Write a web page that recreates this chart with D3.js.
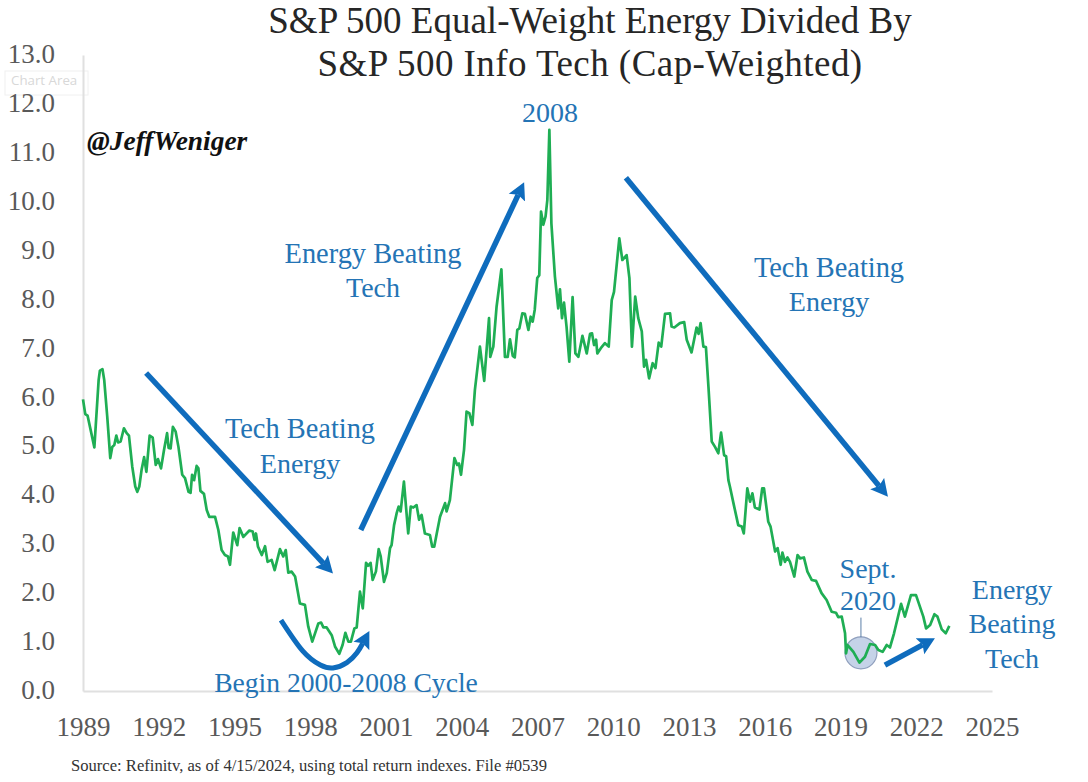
<!DOCTYPE html>
<html>
<head>
<meta charset="utf-8">
<script src="https://cdn.jsdelivr.net/npm/d3@7"></script>
<style>
  body { margin: 0; background: #fff; }
  text { font-family: "Liberation Serif", serif; }
  .note { fill: #2474b5; font-size: 28px; text-anchor: middle; }
  .tick text { fill: #595959; font-size: 27px; }
  .domain { stroke: #e0e0e0; stroke-width: 2px; }
</style>
</head>
<body>
<svg id="chart" width="1088" height="782"></svg>
<script>
const yearTicks = d3.range(1989, 2026, 3);
const valueTicks = d3.range(0, 14);

// one pair per kink in the line
const years = [
  1989.00, 1989.09, 1989.18, 1989.45, 1989.62, 1989.67, 1989.77, 1989.84, 1989.96, 1990.08,
  1990.16, 1990.24, 1990.32, 1990.39, 1990.49, 1990.62, 1990.73, 1990.82, 1990.95, 1991.07,
  1991.15, 1991.23, 1991.32, 1991.42, 1991.51, 1991.64, 1991.76, 1991.88, 1991.97, 1992.09,
  1992.21, 1992.33, 1992.39, 1992.47, 1992.56, 1992.67, 1992.78, 1992.93, 1993.04, 1993.18,
  1993.26, 1993.32, 1993.40, 1993.50, 1993.57, 1993.65, 1993.79, 1993.90, 1994.00, 1994.23,
  1994.36, 1994.49, 1994.62, 1994.74, 1994.82, 1994.95, 1995.11, 1995.20, 1995.35, 1995.59,
  1995.72, 1995.79, 1995.85, 1995.93, 1996.08, 1996.21, 1996.31, 1996.47, 1996.59, 1996.80,
  1996.93, 1997.03, 1997.13, 1997.26, 1997.40, 1997.59, 1997.79, 1997.92, 1998.08, 1998.32,
  1998.43, 1998.52, 1998.65, 1998.85, 1998.98, 1999.15, 1999.28, 1999.39, 1999.51, 1999.61,
  1999.75, 1999.84, 1999.97, 2000.08, 2000.21, 2000.29, 2000.39, 2000.47, 2000.60, 2000.71,
  2000.79, 2000.92, 2001.03, 2001.16, 2001.22, 2001.32, 2001.42, 2001.50, 2001.58, 2001.71,
  2001.88, 2001.98, 2002.08, 2002.21, 2002.31, 2002.41, 2002.54, 2002.74, 2002.83, 2002.91,
  2003.01, 2003.14, 2003.34, 2003.40, 2003.53, 2003.71, 2003.82, 2003.89, 2003.97, 2004.09,
  2004.19, 2004.30, 2004.42, 2004.52, 2004.72, 2004.89, 2005.08, 2005.13, 2005.25, 2005.38,
  2005.57, 2005.71, 2005.82, 2005.91, 2006.02, 2006.10, 2006.20, 2006.28, 2006.40, 2006.50,
  2006.64, 2006.73, 2006.81, 2006.89, 2006.99, 2007.07, 2007.14, 2007.23, 2007.32, 2007.39,
  2007.47, 2007.55, 2007.69, 2007.82, 2007.89, 2007.97, 2008.05, 2008.15, 2008.26, 2008.39,
  2008.50, 2008.62, 2008.78, 2008.95, 2009.08, 2009.16, 2009.24, 2009.32, 2009.37, 2009.54,
  2009.67, 2009.82, 2009.94, 2010.03, 2010.24, 2010.36, 2010.53, 2010.64, 2010.74, 2010.87,
  2010.99, 2011.13, 2011.22, 2011.30, 2011.42, 2011.56, 2011.67, 2011.80, 2011.90, 2012.05,
  2012.25, 2012.31, 2012.42, 2012.64, 2012.81, 2012.91, 2013.10, 2013.30, 2013.38, 2013.46,
  2013.57, 2013.67, 2013.77, 2013.90, 2014.03, 2014.16, 2014.27, 2014.39, 2014.47, 2014.56,
  2014.62, 2014.76, 2014.95, 2015.09, 2015.17, 2015.31, 2015.42, 2015.51, 2015.61, 2015.79,
  2015.90, 2015.97, 2016.14, 2016.23, 2016.41, 2016.51, 2016.63, 2016.70, 2016.80, 2016.90,
  2017.00, 2017.17, 2017.30, 2017.40, 2017.55, 2017.69, 2017.86, 2018.03, 2018.25, 2018.45,
  2018.65, 2018.82, 2018.91, 2019.05, 2019.18, 2019.22, 2019.28, 2019.51, 2019.75, 2019.97,
  2020.17, 2020.37, 2020.50, 2020.67, 2020.83, 2020.96, 2021.12, 2021.40, 2021.55, 2021.79,
  2021.99, 2022.28, 2022.39, 2022.55, 2022.72, 2022.84, 2023.01, 2023.17, 2023.31
];
const ratio = [
  5.96, 5.66, 5.63, 4.98, 6.36, 6.55, 6.58, 6.36, 5.61, 4.76,
  4.99, 5.03, 5.22, 5.08, 5.10, 5.37, 5.27, 5.22, 4.59, 4.18,
  4.07, 4.18, 4.52, 4.78, 4.48, 5.22, 5.18, 4.62, 4.74, 4.55,
  4.93, 5.27, 4.97, 4.96, 5.40, 5.30, 4.99, 4.42, 4.35, 4.07,
  4.05, 4.42, 4.31, 4.60, 4.55, 4.09, 4.03, 3.70, 3.56, 3.56,
  3.29, 2.88, 2.78, 2.75, 2.58, 3.24, 2.98, 3.33, 3.15, 3.28,
  3.26, 3.09, 3.22, 2.95, 2.78, 2.96, 2.64, 2.68, 2.47, 2.90,
  2.75, 2.88, 2.42, 2.44, 2.34, 1.79, 1.76, 1.32, 1.01, 1.38,
  1.40, 1.30, 1.30, 1.14, 0.91, 0.76, 0.94, 1.19, 1.01, 1.01,
  1.28, 1.30, 2.03, 1.69, 2.62, 2.56, 2.62, 2.27, 2.44, 2.90,
  2.75, 2.23, 2.41, 2.92, 2.98, 3.39, 3.63, 3.77, 3.67, 4.28,
  3.22, 3.77, 3.75, 3.80, 3.50, 3.60, 3.22, 3.19, 2.95, 2.95,
  3.22, 3.56, 3.84, 3.67, 3.90, 4.76, 4.62, 4.65, 4.42, 4.93,
  5.71, 5.68, 5.44, 6.15, 7.04, 6.34, 7.62, 6.83, 7.04, 7.86,
  8.62, 6.83, 6.83, 7.19, 6.85, 6.82, 7.38, 7.41, 7.72, 7.71,
  7.38, 7.65, 7.55, 7.79, 8.44, 8.50, 9.80, 9.53, 9.70, 10.04,
  11.47, 9.56, 8.47, 7.82, 8.21, 7.62, 7.94, 7.45, 6.73, 8.05,
  6.90, 6.83, 7.26, 6.90, 7.30, 7.31, 7.07, 7.18, 6.90, 7.03,
  7.11, 7.04, 7.99, 8.16, 9.25, 8.81, 8.91, 8.44, 7.04, 8.06,
  7.62, 7.35, 6.63, 6.77, 6.39, 6.70, 6.60, 7.12, 7.04, 7.71,
  7.72, 7.45, 7.43, 7.52, 7.54, 7.18, 6.92, 7.43, 7.30, 7.52,
  7.04, 7.03, 6.22, 5.10, 4.99, 4.86, 5.28, 4.82, 4.80, 4.31,
  4.18, 3.84, 3.39, 3.36, 3.22, 4.14, 3.87, 4.04, 3.75, 3.71,
  4.14, 4.14, 3.46, 3.36, 2.85, 2.92, 2.58, 2.83, 2.64, 2.73,
  2.64, 2.34, 2.78, 2.71, 2.73, 2.44, 2.27, 2.25, 2.00, 1.86,
  1.62, 1.60, 1.51, 1.52, 1.18, 0.77, 0.94, 0.80, 0.58, 0.70,
  0.96, 0.94, 0.84, 0.80, 0.94, 0.89, 1.18, 1.78, 1.52, 1.96,
  1.96, 1.52, 1.28, 1.35, 1.57, 1.52, 1.26, 1.18, 1.33
];

const svg = d3.select('#chart');
const x = d3.scaleLinear().domain([1989, 2025]).range([83, 992]);
const y = d3.scaleLinear().domain([0, 13]).range([691, 55]);

const blue = '#0f6cbd';
const green = '#1fae54';
const headLen = 14;

svg.append('defs').append('marker')
  .attr('id', 'head')
  .attr('markerUnits', 'userSpaceOnUse')
  .attr('viewBox', '0 -10 18 20')
  .attr('refX', 3).attr('refY', 0)
  .attr('markerWidth', 18).attr('markerHeight', 20)
  .attr('orient', 'auto')
  .append('path')
  .attr('d', 'M0,-9L17,0L0,9L3,0Z')
  .attr('fill', blue);

// axes
svg.append('g')
  .attr('transform', 'translate(83,0)')
  .call(d3.axisLeft(y).tickValues(valueTicks).tickFormat(d3.format('.1f')).tickSize(0).tickPadding(28))
  .selectAll('text').attr('dy', '0.28em');
svg.append('g')
  .attr('transform', 'translate(0,691)')
  .call(d3.axisBottom(x).tickValues(yearTicks).tickFormat(d3.format('d')).tickSize(0).tickPadding(26));

// highlight behind the line
svg.append('circle')
  .attr('cx', x(2019.81)).attr('cy', y(0.78)).attr('r', 16)
  .attr('fill', '#c5d3e8').attr('stroke', '#8f9fbd').attr('stroke-width', 1.2);
svg.append('line')
  .attr('x1', x(2019.81)).attr('x2', x(2019.81))
  .attr('y1', y(1.5)).attr('y2', y(1.1))
  .attr('stroke', '#5b7fa8').attr('stroke-width', 1);

const pts = years.map((yr, i) => [yr, ratio[i]]);
const line = d3.line().x(d => x(d[0])).y(d => y(d[1]));
svg.append('path')
  .attr('d', line(pts))
  .attr('fill', 'none')
  .attr('stroke', green)
  .attr('stroke-width', 2.7)
  .attr('stroke-linejoin', 'round');

// trend arrows, in chart units
const arrows = [
  [[1991.5, 6.5], [1998.9, 2.4]],
  [[2000.0, 3.29], [2006.47, 10.4]],
  [[2010.5, 10.49], [2020.88, 3.97]],
  [[2020.76, 0.53], [2022.74, 1.08]]
];
arrows.forEach(a => {
  // stop the shaft short of the tip so it does not poke through the head
  let x0 = x(a[0][0]), y0 = y(a[0][1]), x1 = x(a[1][0]), y1 = y(a[1][1]);
  let len = Math.hypot(x1 - x0, y1 - y0);
  let t = (len - headLen) / len;
  svg.append('line')
    .attr('x1', x0).attr('y1', y0)
    .attr('x2', x0 + (x1 - x0) * t).attr('y2', y0 + (y1 - y0) * t)
    .attr('stroke', blue)
    .attr('stroke-width', 5.5)
    .attr('marker-end', 'url(#head)');
});
svg.append('path')
  .attr('d', d3.line().x(d => x(d[0])).y(d => y(d[1])).curve(d3.curveNatural)(
    [[1996.84, 1.45], [1997.7, 0.82], [1998.4, 0.53], [1998.9, 0.47], [1999.45, 0.58], [1999.85, 0.78], [2000.08, 0.975]]))
  .attr('fill', 'none')
  .attr('stroke', blue)
  .attr('stroke-width', 5)
  .attr('marker-end', 'url(#head)');

// title and notes
function label (txt, cx, by, size, cls) {
  return svg.append('text').attr('class', cls || 'note')
    .attr('x', cx).attr('y', by)
    .style('font-size', size ? size + 'px' : null)
    .text(txt);
}
label('S&P 500 Equal-Weight Energy Divided By', 590, 33, 37, 'title')
  .attr('text-anchor', 'middle').attr('fill', '#262626');
label('S&P 500 Info Tech (Cap-Weighted)', 590, 76, 37, 'title')
  .attr('text-anchor', 'middle').attr('fill', '#262626').style('letter-spacing', '0.45px');
label('2008', 550, 122);
label('Energy Beating', 373, 263, 28.4);
label('Tech', 373, 297);
label('Tech Beating', 300, 438, 28.4);
label('Energy', 300, 473);
label('Tech Beating', 829, 277, 28.4);
label('Energy', 829, 311);
label('Begin 2000-2008 Cycle', 346, 692, 27.6);
label('Sept.', 868, 578);
label('2020', 868, 610);
label('Energy', 1012, 599);
label('Beating', 1012, 633);
label('Tech', 1012, 668);

label('@JeffWeniger', 87, 150, 27.4, 'brand')
  .attr('font-weight', 'bold').attr('font-style', 'italic').attr('fill', '#111');
label('Source: Refinitv, as of 4/15/2024, using total return indexes. File #0539', 71, 771, 16.6, 'src')
  .attr('fill', '#333');

// leftover excel tooltip in the screenshot
svg.insert('rect', 'g')
  .attr('x', 5).attr('y', 71).attr('width', 83).attr('height', 24)
  .attr('fill', '#fff').attr('stroke', '#f0f0f0');
svg.append('text')
  .attr('x', 11).attr('y', 85)
  .style('font-family', '"Open Sans", sans-serif')
  .style('font-size', '13.3px')
  .attr('fill', '#d8d8d8')
  .text('Chart Area');
</script>
</body>
</html>
